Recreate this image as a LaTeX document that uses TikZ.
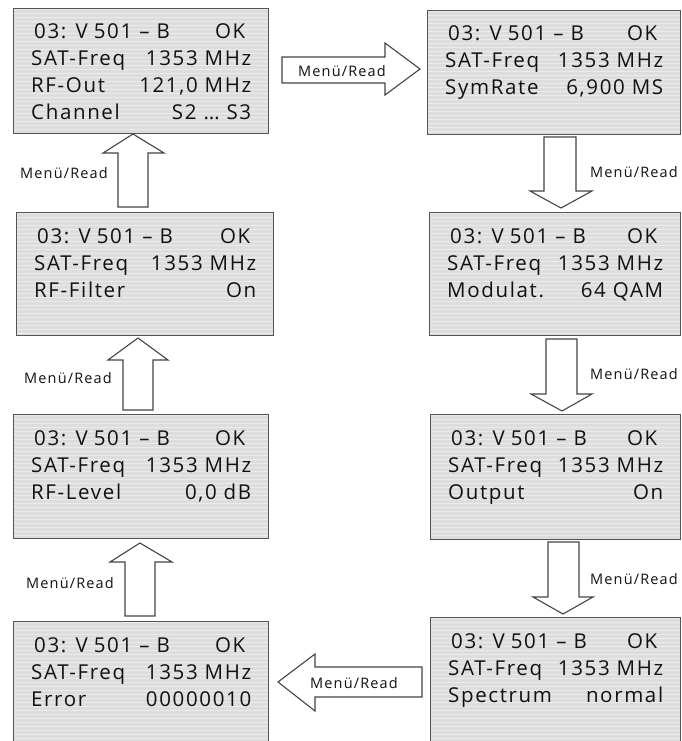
\documentclass[tikz,border=0pt]{standalone}
\usepackage{fontspec}
\setmainfont{Open Sans}[LetterSpace=8]
\newfontfamily\labfont{Open Sans}[LetterSpace=8]
\definecolor{lcdbase}{HTML}{DDDDDD}
\definecolor{lcdstripe}{HTML}{EBEBEB}
\definecolor{lcdframe}{HTML}{555555}
\definecolor{arrowline}{HTML}{444444}
\definecolor{txtcol}{HTML}{111111}
\tikzset{
  lcd/.style={draw=lcdframe, line width=1.4pt, fill=lcdbase, inner sep=0pt,
    path picture={
      \foreach \k in {1,5,...,141}{
        \draw[lcdstripe, line width=1.4pt]
          ([yshift=-\k pt]path picture bounding box.north west) --
          ([yshift=-\k pt]path picture bounding box.north east);}
    }},
  txt/.style={inner sep=0pt, text=txtcol, font=\fontsize{20.5}{24}\selectfont},
  lab/.style={inner sep=0pt, text=txtcol, font=\labfont\fontsize{14.5}{17}\selectfont},
  blockarrow/.style={draw=arrowline, line width=1.1pt, fill=white, line join=miter}
}
\newcommand{\screen}[6]{%
  \node[lcd, minimum width=#3, minimum height=#4, anchor=north west] (#1) at #2 {};
  \node[txt, anchor=base west] (#1-1l) at ([xshift=21pt,yshift=-31pt]#1.north west) {03: V\hspace{6pt}501 – B};
  \node[txt, anchor=base east] (#1-1r) at ([xshift=-24pt,yshift=-31pt]#1.north east) {OK};
  \node[txt, anchor=base west] (#1-2l) at ([xshift=18pt,yshift=-58pt]#1.north west) {SAT-Freq};
  \node[txt, anchor=base east] (#1-2r) at ([xshift=-18pt,yshift=-58pt]#1.north east) {1353 MHz};
  \node[txt, anchor=base west] (#1-3l) at ([xshift=18pt,yshift=-85pt]#1.north west) {#5};
  \node[txt, anchor=base east] (#1-3r) at ([xshift=-18pt,yshift=-85pt]#1.north east) {#6};
}
\begin{document}
\begin{tikzpicture}[x=1pt, y=-1pt]
\useasboundingbox (0,0) rectangle (682,741);
\clip (0,0) rectangle (682,741);

% left column
\screen{L1}{(13,8)}{255}{125}{RF-Out}{121,0 MHz}
\node[txt, anchor=base west] (L1-4l) at ([xshift=18pt,yshift=-112pt]L1.north west) {Channel};
\node[txt, anchor=base east] (L1-4r) at ([xshift=-18pt,yshift=-112pt]L1.north east) {S2 … S3};
\screen{L2}{(16,212)}{257}{123}{RF-Filter}{On}
\screen{L3}{(13,414)}{255}{124}{RF-Level}{0,0 dB}
\screen{L4}{(13,621)}{255}{126}{Error}{00000010}

% right column
\screen{R1}{(427,10)}{253}{124}{SymRate}{6,900 MS}
\screen{R2}{(429,212)}{251}{123}{Modulat.}{64 QAM}
\screen{R3}{(430,414)}{250}{125}{Output}{On}
\screen{R4}{(430,617)}{250}{130}{Spectrum}{normal}

% block arrows
% L1 -> R1
\draw[blockarrow] (282,57) -- (385,57) -- (385,43) -- (420,69) -- (385,95) -- (385,83) -- (282,83) -- cycle;
\node[lab] (a1) at (342,71) {Menü/Read};
% R1 -> R2
\draw[blockarrow] (544,137) -- (576,137) -- (576,191) -- (592,191) -- (561,208) -- (530,191) -- (544,191) -- cycle;
\node[lab] (a2) at (634,172) {Menü/Read};
% R2 -> R3
\draw[blockarrow] (546,339) -- (577,339) -- (577,394) -- (592,394) -- (562,411) -- (531,394) -- (546,394) -- cycle;
\node[lab] (a3) at (634,374) {Menü/Read};
% R3 -> R4
\draw[blockarrow] (548,542) -- (579,542) -- (579,597) -- (593,597) -- (563,614) -- (533,597) -- (548,597) -- cycle;
\node[lab] (a4) at (634,579) {Menü/Read};
% R4 -> L4
\draw[blockarrow] (422,667) -- (315,667) -- (315,654) -- (278,682) -- (315,711) -- (315,697) -- (422,697) -- cycle;
\node[lab] (a5) at (354,683) {Menü/Read};
% L4 -> L3
\draw[blockarrow] (125,616) -- (125,562) -- (110,562) -- (140,543) -- (172,562) -- (155,562) -- (155,616) -- cycle;
\node[lab] (a6) at (70,583) {Menü/Read};
% L3 -> L2
\draw[blockarrow] (123,410) -- (123,360) -- (108,360) -- (138,338) -- (168,360) -- (153,360) -- (153,410) -- cycle;
\node[lab] (a7) at (68,378) {Menü/Read};
% L2 -> L1
\draw[blockarrow] (118,207) -- (118,153) -- (103,153) -- (133,134) -- (164,153) -- (148,153) -- (148,207) -- cycle;
\node[lab] (a8) at (64,173) {Menü/Read};
\end{tikzpicture}
\end{document}
